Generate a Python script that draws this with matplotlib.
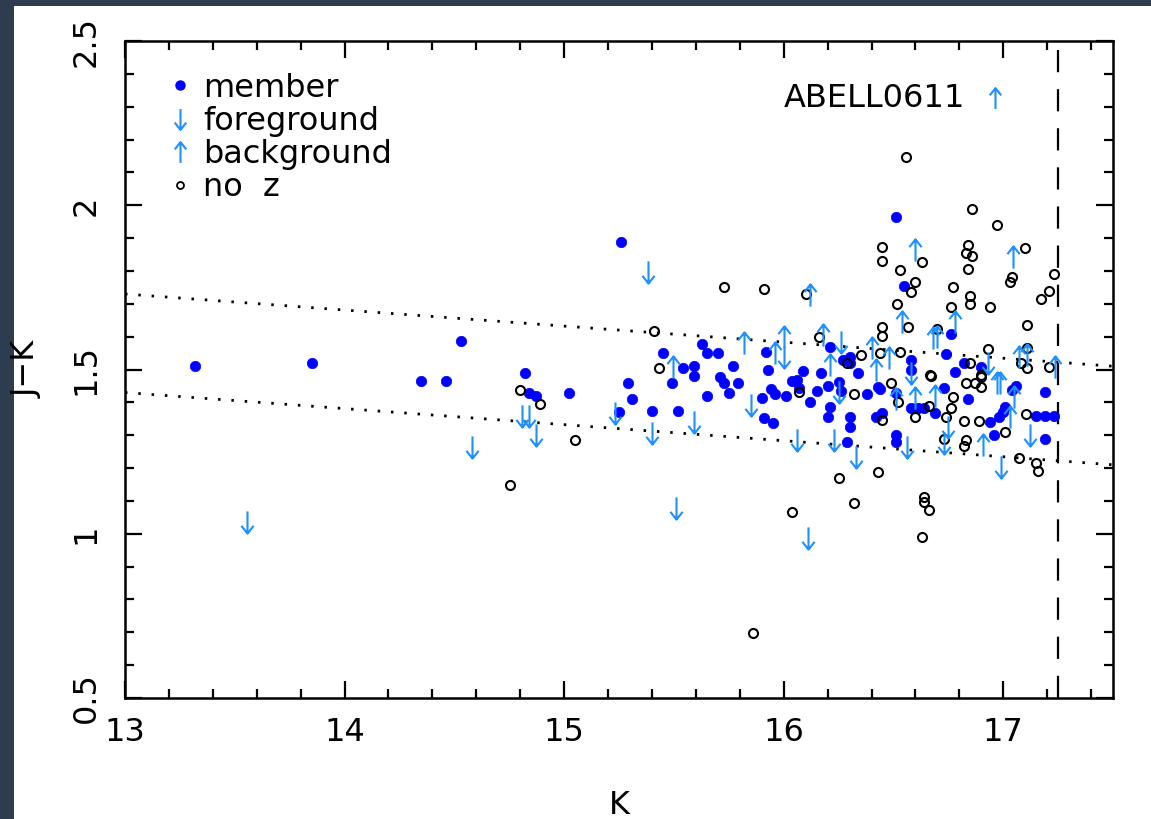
import matplotlib.pyplot as plt
import numpy as np
from matplotlib.path import Path
from matplotlib.lines import Line2D
from matplotlib.patches import Rectangle

# cluster members (filled blue)
member_k = [13.32, 13.85, 14.35, 14.46, 14.53, 14.82, 14.84, 14.87, 15.02, 15.29,
            15.31, 15.25, 15.26, 15.45, 15.49, 15.54, 15.59, 15.59, 15.40, 15.52,
            15.65, 15.71, 15.73, 15.79, 15.75, 15.90, 15.94, 15.96, 16.01, 15.91,
            15.95, 16.04, 16.06, 16.07, 16.12, 16.15, 15.63, 15.65, 15.70, 15.77,
            15.92, 15.93, 16.09, 16.17, 16.20, 16.21, 16.21, 16.20, 16.25, 16.26,
            16.27, 16.30, 16.30, 16.30, 16.30, 16.34, 16.38, 16.29, 16.43, 16.44,
            16.45, 16.42, 16.51, 16.51, 16.51, 16.58, 16.58, 16.58, 16.61, 16.64,
            16.69, 16.73, 16.74, 16.76, 16.78, 16.82, 16.84, 16.90, 16.94, 16.96,
            16.98, 17.00, 17.01, 17.04, 17.06, 17.15, 17.19, 17.23, 17.19, 17.19,
            16.51, 16.55]
member_jk = [1.51, 1.52, 1.465, 1.465, 1.587, 1.49, 1.43, 1.42, 1.43, 1.46,
             1.41, 1.37, 1.888, 1.55, 1.46, 1.505, 1.51, 1.48, 1.374, 1.374,
             1.42, 1.477, 1.46, 1.46, 1.43, 1.414, 1.44, 1.425, 1.42, 1.352,
             1.337, 1.465, 1.468, 1.444, 1.40, 1.436, 1.578, 1.551, 1.549, 1.51,
             1.554, 1.50, 1.496, 1.49, 1.45, 1.569, 1.385, 1.356, 1.463, 1.435,
             1.529, 1.537, 1.519, 1.356, 1.324, 1.49, 1.425, 1.28, 1.448, 1.44,
             1.367, 1.356, 1.43, 1.30, 1.28, 1.53, 1.498, 1.382, 1.382, 1.382,
             1.369, 1.443, 1.547, 1.608, 1.493, 1.52, 1.409, 1.509, 1.341, 1.30,
             1.356, 1.372, 1.387, 1.438, 1.45, 1.358, 1.358, 1.358, 1.433, 1.29,
             1.964, 1.755]

# foreground galaxies (down arrows)
fg_k = [13.555, 14.58, 14.81, 14.84, 14.87, 15.23, 15.40, 15.51, 15.59, 15.38,
        15.85, 16.06, 16.11, 16.00, 16.26, 16.25, 16.23, 16.33, 16.56, 16.58,
        16.75, 16.73, 16.99, 17.12, 16.93]
fg_jk = [1.036, 1.263, 1.36, 1.36, 1.30, 1.367, 1.306, 1.077, 1.341, 1.798,
         1.392, 1.285, 0.986, 1.539, 1.585, 1.433, 1.285, 1.233, 1.263, 1.488,
         1.326, 1.275, 1.204, 1.30, 1.519]

# background galaxies (up arrows)
bg_k = [15.495, 15.82, 15.96, 16.00, 16.12, 16.60, 17.045, 16.54, 16.18, 16.40,
        16.21, 16.48, 16.42, 16.68, 16.70, 16.78, 17.07, 17.11, 17.235, 16.60,
        16.69, 16.51, 16.91, 16.97, 16.985, 17.03, 17.05]
bg_jk = [1.507, 1.58, 1.549, 1.60, 1.727, 1.864, 1.843, 1.646, 1.605, 1.565,
         1.514, 1.534, 1.498, 1.595, 1.60, 1.646, 1.539, 1.544, 1.509, 1.412,
         1.42, 1.41, 1.27, 1.458, 1.458, 1.356, 1.417]

# no redshift (open circles)
noz_k = [15.41, 15.43, 14.80, 14.89, 15.05, 14.755, 15.86, 16.04, 15.73, 15.91,
         16.10, 16.16, 16.86, 16.97, 16.45, 16.45, 16.53, 16.63, 16.60, 16.58,
         16.515, 16.84, 16.83, 16.86, 16.84, 17.10, 16.77, 16.85, 16.85, 16.76,
         16.94, 17.04, 17.03, 17.23, 17.21, 17.17, 17.11, 16.45, 16.45, 16.565,
         16.35, 16.44, 16.53, 16.70, 16.93, 16.85, 17.08, 17.11, 17.11, 17.21,
         16.665, 16.90, 16.49, 16.32, 16.52, 16.45, 16.60, 16.66, 16.67, 16.77,
         16.76, 16.74, 16.83, 16.87, 16.90, 16.90, 16.82, 16.89, 16.73, 16.83,
         16.82, 17.01, 17.105, 17.07, 17.15, 17.16, 16.25, 16.43, 16.32, 16.64,
         16.64, 16.66, 16.63, 16.07, 16.29, 16.555]
noz_jk = [1.618, 1.504, 1.438, 1.395, 1.285, 1.148, 0.698, 1.067, 1.75, 1.745,
          1.73, 1.60, 1.99, 1.94, 1.872, 1.831, 1.803, 1.828, 1.767, 1.737,
          1.70, 1.879, 1.856, 1.846, 1.805, 1.869, 1.75, 1.724, 1.70, 1.689,
          1.691, 1.781, 1.767, 1.79, 1.74, 1.714, 1.635, 1.63, 1.602, 1.63,
          1.544, 1.55, 1.554, 1.622, 1.561, 1.521, 1.519, 1.565, 1.504, 1.509,
          1.483, 1.483, 1.46, 1.425, 1.402, 1.346, 1.356, 1.389, 1.48, 1.415,
          1.382, 1.356, 1.458, 1.458, 1.478, 1.448, 1.344, 1.344, 1.29, 1.285,
          1.267, 1.31, 1.365, 1.23, 1.214, 1.192, 1.169, 1.189, 1.095, 1.111,
          1.098, 1.072, 0.991, 1.433, 1.52, 2.148]

# red sequence limits and magnitude limit
rs_k = [13.0, 17.5]
rs_upper = [1.73, 1.51]
rs_lower = [1.43, 1.21]
k_limit = 17.25

xticks = [13, 14, 15, 16, 17]
yticks = [0.5, 1.0, 1.5, 2.0, 2.5]
ytick_labels = ['0.5', '1', '1.5', '2', '2.5']

blue = '#0000ff'
arrow_c = '#1e90ff'

codes = [Path.MOVETO, Path.LINETO, Path.MOVETO, Path.LINETO, Path.LINETO]
down = Path([(0, 1), (0, -1), (-0.55, -0.3), (0, -1), (0.55, -0.3)], codes)
up = Path([(0, -1), (0, 1), (-0.55, 0.3), (0, 1), (0.55, 0.3)], codes)

fig = plt.figure(figsize=(11.51, 8.19), dpi=100, facecolor='#2d3d4f')
fig.add_artist(Rectangle((14 / 1151, 0), 1, 813 / 819, transform=fig.transFigure,
                         facecolor='white', edgecolor='none', zorder=-5))
ax = fig.add_axes([0.1086, 0.1477, 0.8584, 0.8022])

ax.plot(rs_k, rs_upper, color='black', lw=2, dashes=(0.9, 3.9))
ax.plot(rs_k, rs_lower, color='black', lw=2, dashes=(0.9, 3.9))
ax.axvline(k_limit, color='black', lw=1.6, dashes=(10, 7.6))

ax.plot(member_k, member_jk, ls='none', marker='o', ms=7.5, color=blue, mec=blue, mew=0.5)
ax.plot(noz_k, noz_jk, ls='none', marker='o', ms=6.5, mfc='none', mec='black', mew=1.5)
ax.plot(fg_k, fg_jk, ls='none', marker=down, ms=16, mfc='none', mec=arrow_c, mew=1.5)
ax.plot(bg_k, bg_jk, ls='none', marker=up, ms=16, mfc='none', mec=arrow_c, mew=1.5)

handles = [
    Line2D([], [], ls='none', marker='o', ms=6.5, color=blue),
    Line2D([], [], ls='none', marker=down, ms=15, mfc='none', mec=arrow_c, mew=1.5),
    Line2D([], [], ls='none', marker=up, ms=15, mfc='none', mec=arrow_c, mew=1.5),
    Line2D([], [], ls='none', marker='o', ms=5, mfc='none', mec='black', mew=1.3),
]
ax.legend(handles, ['member', 'foreground', 'background', 'no  z'], loc='upper left',
          bbox_to_anchor=(0.04, 0.952), frameon=False, fontsize=23, handlelength=1.0,
          handletextpad=0.2, labelspacing=0.07, borderpad=0, borderaxespad=0)

ax.text(0.850, 0.913, 'ABELL0611', transform=ax.transAxes, ha='right', va='center', fontsize=23)
ax.plot([0.8806], [0.913], transform=ax.transAxes, ls='none', marker=up, ms=15,
        mfc='none', mec=arrow_c, mew=1.5, clip_on=False)

ax.set_xlim(13, 17.5)
ax.set_ylim(0.5, 2.5)
ax.set_xticks(xticks)
ax.set_xticks(np.arange(13, 17.51, 0.2), minor=True)
ax.set_yticks(yticks)
ax.set_yticklabels(ytick_labels, rotation=90, va='center')
ax.set_yticks(np.arange(0.5, 2.51, 0.1), minor=True)
ax.tick_params(which='both', direction='in', top=True, right=True, width=1.6)
ax.tick_params(which='major', length=12, labelsize=23)
ax.tick_params(which='minor', length=6.5)
ax.tick_params(axis='x', pad=14)
ax.tick_params(axis='y', pad=17)
for s in ax.spines.values():
    s.set_linewidth(1.8)

ax.set_xlabel('K', fontsize=23, labelpad=30)
ax.set_ylabel('J\u2212K', fontsize=23, labelpad=20)

fig.savefig('out.png', dpi=100, facecolor=fig.get_facecolor())
